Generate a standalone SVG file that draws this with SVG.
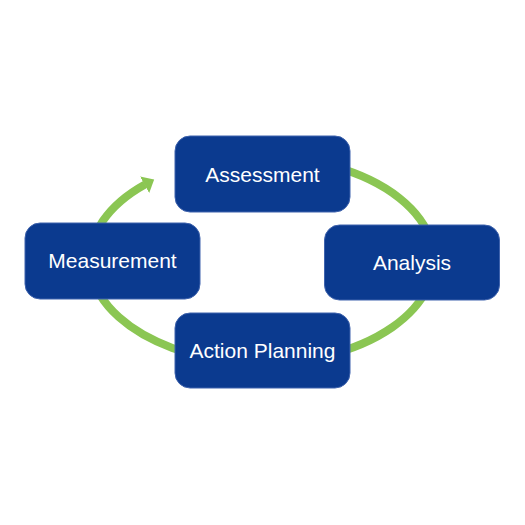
<svg xmlns="http://www.w3.org/2000/svg" width="525" height="525" viewBox="0 0 525 525">
  <style>
    .box { fill: #0b3a8f; stroke: #3f63ad; stroke-width: 1; }
    .lbl { fill: #ffffff; font-family: "Liberation Sans", Arial, sans-serif; font-size: 21px; text-anchor: middle; }
    .ring { fill: none; stroke: #8bc653; stroke-width: 8; }
  </style>
  <defs>
    <marker id="head" markerUnits="userSpaceOnUse" markerWidth="12" markerHeight="20" refX="0.5" refY="9.5" orient="auto" viewBox="0 0 12 19">
      <path d="M0,0 L11,9.5 L0,19 Z" fill="#8bc653"/>
    </marker>
  </defs>
  <rect width="525" height="525" fill="#ffffff"/>
  <g id="connectors">
    <path class="ring" d="M262,157 A172,103 0 1 1 145,184.5" marker-end="url(#head)"/>
  </g>
  <g id="assessment">
    <rect class="box" x="175" y="136" width="175" height="76" rx="15"/>
    <text class="lbl" x="262.5" y="181.5">Assessment</text>
  </g>
  <g id="analysis">
    <rect class="box" x="324.5" y="225" width="175" height="75" rx="15"/>
    <text class="lbl" x="412" y="269.5">Analysis</text>
  </g>
  <g id="measurement">
    <rect class="box" x="25" y="223" width="175" height="76" rx="15"/>
    <text class="lbl" x="112.5" y="268">Measurement</text>
  </g>
  <g id="action-planning">
    <rect class="box" x="175" y="313" width="175" height="75" rx="15"/>
    <text class="lbl" x="262.5" y="357.5">Action Planning</text>
  </g>
</svg>
